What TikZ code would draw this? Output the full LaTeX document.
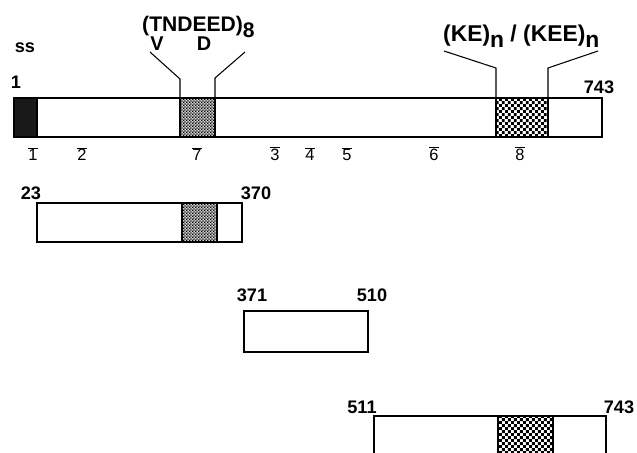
\documentclass[tikz,border=0pt]{standalone}
\usepackage{fontspec}
\setmainfont{Liberation Sans}
\usetikzlibrary{patterns.meta}

\newcommand{\pepno}[1]{$\overline{\mbox{#1}}$}
\newcommand{\lowsub}[1]{\raisebox{-5pt}{#1}}

\tikzdeclarepattern{name=finechecker, type=uncolored,
  bottom left={(0pt,0pt)}, top right={(2.8pt,2.8pt)}, tile size={(2.8pt,2.8pt)},
  code={\fill (0pt,0pt) rectangle (1.4pt,1.4pt); \fill (1.4pt,1.4pt) rectangle (2.8pt,2.8pt);}}
\tikzdeclarepattern{name=coarsechecker, type=uncolored,
  bottom left={(0pt,0pt)}, top right={(5.4pt,5.4pt)}, tile size={(5.4pt,5.4pt)},
  code={\fill (0pt,0pt) rectangle (2.7pt,2.7pt); \fill (2.7pt,2.7pt) rectangle (5.4pt,5.4pt);}}

\begin{document}
\begin{tikzpicture}[x=0.03cm, y=-0.03cm,
    bar/.style={draw, line width=1.2pt, fill=white},
    sigpep/.style={draw, line width=1.2pt, fill=black!90},
    acidic/.style={draw, line width=1.2pt, preaction={fill=gray!35}, pattern=finechecker},
    kerich/.style={draw, line width=1.2pt, pattern=coarsechecker},
    lead/.style={line width=0.9pt},
    lbl/.style={font=\bfseries\fontsize{18}{20}\selectfont, inner sep=0pt},
    resno/.style={font=\bfseries\fontsize{15.5}{17}\selectfont, inner sep=0pt},
    pep/.style={font=\fontsize{14}{16}\selectfont, inner sep=0pt}]
  \useasboundingbox (0,0) rectangle (637,453);

  % Full-length precursor
  \draw[bar] (14,98) rectangle (602,137);
  \draw[sigpep] (14,98) rectangle (37,137);
  \draw[acidic] (180,98) rectangle (215,137);
  \draw[kerich] (496,98) rectangle (548,137);

  % Repeats above the bar
  \coordinate (tndL) at (180,98);
  \coordinate (tndR) at (215,98);
  \coordinate (tndLk) at (180,79);
  \coordinate (tndRk) at (215,78);
  \coordinate (tndLe) at (150,52);
  \coordinate (tndRe) at (245,52);
  \draw[lead] (tndL) -- (tndLk) -- (tndLe);
  \draw[lead] (tndR) -- (tndRk) -- (tndRe);

  \coordinate (keL) at (496,98);
  \coordinate (keR) at (548,98);
  \coordinate (keLk) at (496,68);
  \coordinate (keRk) at (548,68);
  \coordinate (keLe) at (444,51);
  \coordinate (keRe) at (598,51);
  \draw[lead] (keL) -- (keLk) -- (keLe);
  \draw[lead] (keR) -- (keRk) -- (keRe);

  \node[lbl, anchor=base west] (tnd) at (142,32) {(TNDEED)\lowsub{8}};
  \node[lbl, font=\bfseries\fontsize{17}{19}\selectfont] (tndV) at (157,43.5) {V};
  \node[lbl, font=\bfseries\fontsize{17}{19}\selectfont] (tndD) at (204,43.5) {D};
  \node[lbl, font=\bfseries\fontsize{19.5}{21}\selectfont, anchor=base west] (ke) at (443,42)
    {(KE)\lowsub{n} / (KEE)\lowsub{n}};

  \node[resno] (ss) at (25,48) {ss};
  \node[resno] (first) at (16,82) {1};
  \node[resno] (last) at (599,87) {743};

  % Peptides
  \node[pep] (p1) at (33,154) {\pepno{1}};
  \node[pep] (p2) at (82,154) {\pepno{2}};
  \node[pep] (p7) at (197,154) {\pepno{7}};
  \node[pep] (p3) at (275,154) {\pepno{3}};
  \node[pep] (p4) at (310,154) {\pepno{4}};
  \node[pep] (p5) at (347,154) {\pepno{5}};
  \node[pep] (p6) at (434,154) {\pepno{6}};
  \node[pep] (p8) at (520,154) {\pepno{8}};

  % Fragment 23-370
  \draw[bar] (37,203) rectangle (242,242);
  \draw[acidic] (182,203) rectangle (217,242);
  \node[resno] (f1a) at (31,193) {23};
  \node[resno] (f1b) at (256,193) {370};

  % Fragment 371-510
  \draw[bar] (244,311) rectangle (368,352);
  \node[resno] (f2a) at (252,295) {371};
  \node[resno] (f2b) at (372,295) {510};

  % Fragment 511-743
  \draw[bar] (374,416) rectangle (606,456);
  \draw[kerich] (498,416) rectangle (553,456);
  \node[resno] (f3a) at (362,407) {511};
  \node[resno] (f3b) at (619,407) {743};
\end{tikzpicture}
\end{document}
